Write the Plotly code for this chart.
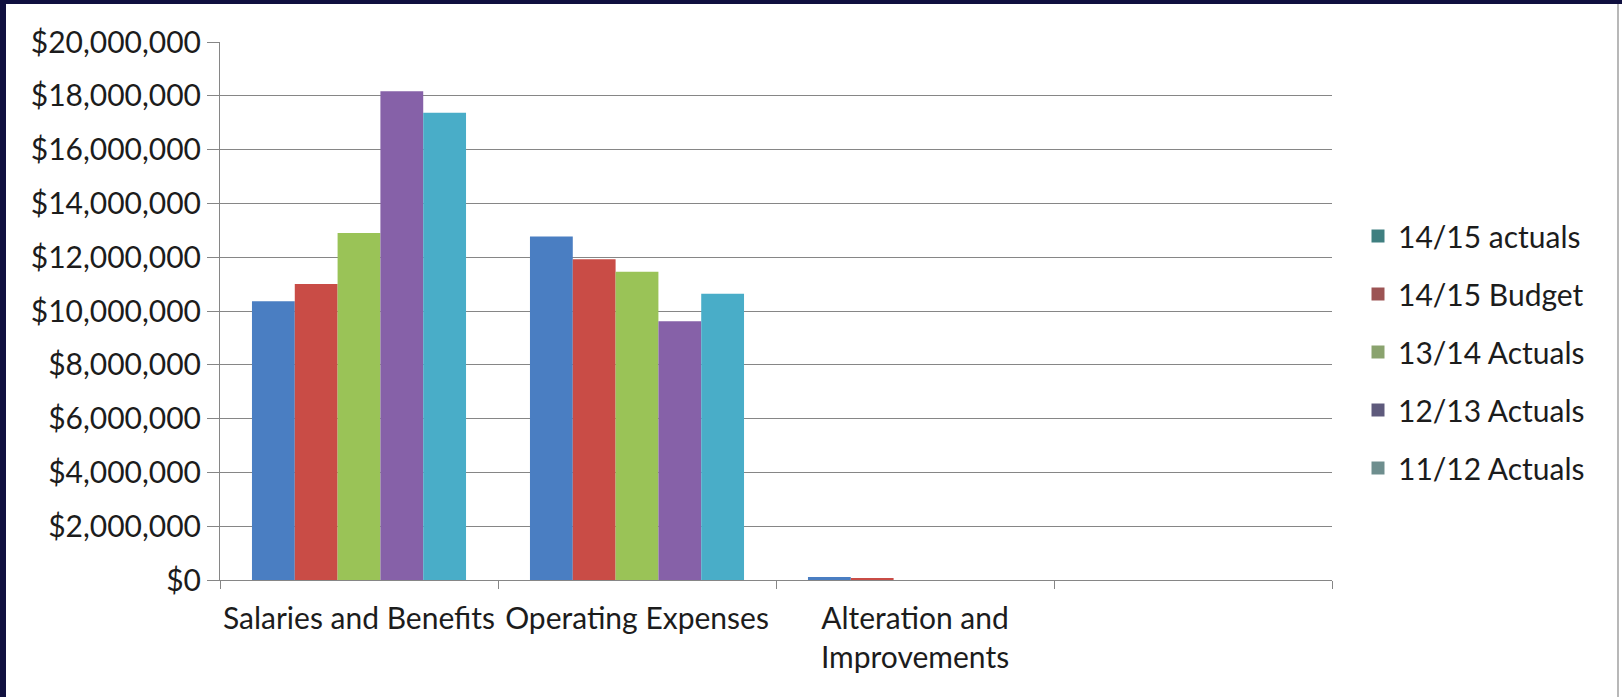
import plotly.graph_objects as go

# Expense categories (the fourth slot is an empty category on the axis)
categories = ["Salaries and Benefits", "Operating Expenses", "Alteration and<br>Improvements", " "]

series_names = ["14/15 actuals", "14/15 Budget", "13/14 Actuals", "12/13 Actuals", "11/12 Actuals"]
actuals_1415 = [10360000, 12770000, 110000, None]
budget_1415 = [11000000, 11920000, 50000, None]
actuals_1314 = [12900000, 11460000, 0, None]
actuals_1213 = [18170000, 9620000, 0, None]
actuals_1112 = [17370000, 10640000, 0, None]
series_values = [actuals_1415, budget_1415, actuals_1314, actuals_1213, actuals_1112]

bar_colors = ["#4a7ec2", "#c94c46", "#9ac357", "#8661a8", "#49adc8"]
legend_colors = ["#3f7f80", "#9c5454", "#8aa36e", "#5e5a7c", "#6e8e8e"]

FONT = "Lato"
FS = 30
W, H = 1622, 697
L, R, T, B = 220, 290, 42, 117
PW, PH = W - L - R, H - T - B

fig = go.Figure()

for name, vals, col in zip(series_names, series_values, bar_colors):
    fig.add_trace(go.Bar(
        x=categories, y=vals, name=name,
        marker=dict(color=col, line=dict(width=0)),
        showlegend=False,
    ))

# Legend entries drawn as square markers
for i, (name, col) in enumerate(zip(series_names, legend_colors)):
    fig.add_trace(go.Scatter(
        x=[None], y=[None], name=name, mode="markers",
        marker=dict(symbol="square", size=13, color=col),
        legendgroup=f"g{i}",
    ))


def px_x(p):
    return (p - L) / PW


def px_y(p):
    return (H - B - p) / PH


navy = "#10103f"
shapes = [
    dict(type="rect", xref="paper", yref="paper",
         x0=px_x(0), x1=px_x(6), y0=px_y(H), y1=px_y(0),
         fillcolor=navy, line=dict(width=0), layer="above"),
    dict(type="rect", xref="paper", yref="paper",
         x0=px_x(0), x1=px_x(W), y0=px_y(4), y1=px_y(0),
         fillcolor=navy, line=dict(width=0), layer="above"),
    dict(type="line", xref="paper", yref="paper",
         x0=px_x(1618), x1=px_x(1618), y0=px_y(H), y1=px_y(4),
         line=dict(color="#b8b8b8", width=2), layer="above"),
]

fig.update_layout(
    width=W, height=H,
    margin=dict(l=L, r=R, t=T, b=B, pad=0, autoexpand=False),
    paper_bgcolor="white", plot_bgcolor="white",
    font=dict(family=FONT, size=FS, color="#1c1c1c"),
    barmode="group", bargap=0.23, bargroupgap=0,
    showlegend=True,
    legend=dict(
        x=px_x(1358), y=px_y(210), xanchor="left", yanchor="top",
        font=dict(family=FONT, size=FS, color="#1c1c1c"),
        tracegroupgap=16, itemclick=False, bgcolor="rgba(0,0,0,0)",
    ),
    shapes=shapes,
)

fig.update_xaxes(
    type="category", range=[-0.5, 3.5], automargin=False, tickangle=0,
    showline=True, linecolor="#868686", linewidth=1,
    ticks="outside", tickson="boundaries", ticklen=8, tickcolor="#868686",
    ticklabelstandoff=12,
    showgrid=False, tickfont=dict(family=FONT, size=FS, color="#1c1c1c"),
)

fig.update_yaxes(
    range=[0, 20000000], dtick=2000000, tick0=0, automargin=False,
    tickprefix="$", tickformat=",d",
    showgrid=True, gridcolor="#868686", gridwidth=1,
    showline=True, linecolor="#868686", linewidth=1,
    ticks="outside", ticklen=12, tickcolor="#868686",
    zeroline=False,
    tickfont=dict(family=FONT, size=FS, color="#1c1c1c"),
)

fig.write_html("out.html")
